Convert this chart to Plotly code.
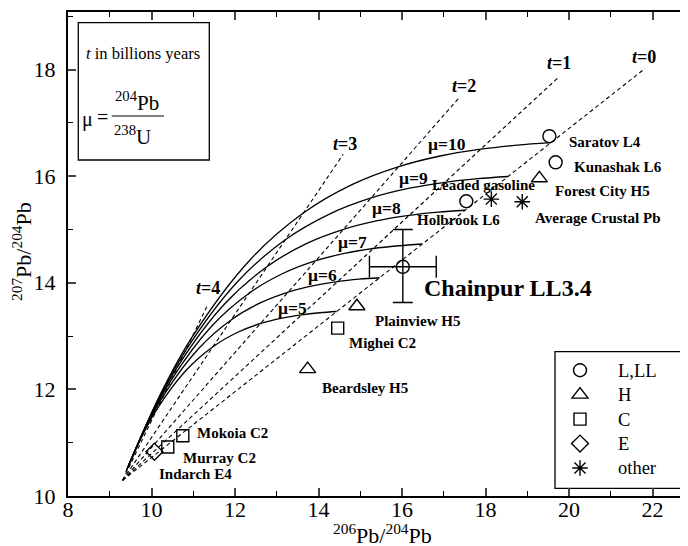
import plotly.graph_objects as go

# ---------------- data ----------------
# primordial (Canyon Diablo) Pb, common origin of all isochrons
start_x = 9.307
start_y = 10.294

# isochrons t = 0..4 (billion years): end points of the dashed lines
iso_t = [0, 1, 2, 3, 4]
iso_end_x = [21.82, 19.77, 17.38, 14.59, 11.33]
iso_end_y = [18.02, 17.87, 17.48, 16.41, 13.56]

# growth curves for mu = 5..10 (points along each curve)
mu_values = [5, 6, 7, 8, 9, 10]
mu5_x = [9.386, 9.767, 10.135, 10.830, 11.472, 12.066, 12.616, 13.125, 13.596, 14.032, 14.435]
mu5_y = [10.448, 11.114, 11.634, 12.358, 12.801, 13.072, 13.237, 13.338, 13.400, 13.438, 13.461]
mu6_x = [9.401, 9.859, 10.301, 11.135, 11.905, 12.618, 13.278, 13.889, 14.453, 14.977, 15.460]
mu6_y = [10.479, 11.277, 11.902, 12.771, 13.303, 13.627, 13.826, 13.947, 14.021, 14.067, 14.094]
mu7_x = [9.417, 9.951, 10.467, 11.439, 12.338, 13.170, 13.940, 14.652, 15.311, 15.921, 16.486]
mu7_y = [10.510, 11.441, 12.170, 13.184, 13.804, 14.183, 14.415, 14.556, 14.643, 14.695, 14.728]
mu8_x = [9.433, 10.043, 10.632, 11.744, 12.771, 13.721, 14.601, 15.416, 16.169, 16.866, 17.512]
mu8_y = [10.540, 11.605, 12.437, 13.597, 14.305, 14.739, 15.003, 15.165, 15.264, 15.324, 15.361]
mu9_x = [9.448, 10.135, 10.798, 12.048, 13.204, 14.273, 15.263, 16.179, 17.027, 17.811, 18.537]
mu9_y = [10.571, 11.769, 12.705, 14.010, 14.807, 15.294, 15.592, 15.774, 15.885, 15.953, 15.994]
mu10_x = [9.464, 10.227, 10.964, 12.353, 13.636, 14.825, 15.925, 16.943, 17.884, 18.756, 19.563]
mu10_y = [10.602, 11.933, 12.973, 14.423, 15.308, 15.850, 16.180, 16.383, 16.506, 16.582, 16.628]
mu_x = [mu5_x, mu6_x, mu7_x, mu8_x, mu9_x, mu10_x]
mu_y = [mu5_y, mu6_y, mu7_y, mu8_y, mu9_y, mu10_y]

# meteorite / reference samples
LL_names = ["Saratov L4", "Kunashak L6", "Holbrook L6"]
LL_x = [19.53, 19.68, 17.54]
LL_y = [16.75, 16.26, 15.53]

chainpur_x = [16.02]
chainpur_y = [14.30]
chainpur_ex = [0.80]
chainpur_ey_plus = [0.70]
chainpur_ey_minus = [0.67]

H_names = ["Forest City H5", "Plainview H5", "Beardsley H5"]
H_x = [19.29, 14.92, 13.74]
H_y = [15.96, 13.56, 12.38]

C_names = ["Mighei C2", "Mokoia C2", "Murray C2"]
C_x = [14.46, 10.75, 10.39]
C_y = [13.15, 11.13, 10.92]

E_names = ["Indarch E4"]
E_x = [10.07]
E_y = [10.83]

other_names = ["Leaded gasoline", "Average Crustal Pb"]
other_x = [18.14, 18.88]
other_y = [15.57, 15.52]

legend_labels = ["L,LL", "H", "C", "E", "other"]

x_ticks = [8, 10, 12, 14, 16, 18, 20, 22]
y_ticks = [10, 12, 14, 16, 18]

# ---------------- layout geometry ----------------
BODY = 8                      # default page margin of the html body
FW, FH = 688 - BODY, 546 - BODY
PL, PT = 68, 12               # plot area left / top in page pixels
PW, PH = 620, 484
ML, MT = PL - BODY, PT - BODY
MR = FW - ML - PW
MB = FH - MT - PH
XR = [8, 22.85]
YR = [10, 19.08]

def dx(p):  # page pixel x -> data x
    return XR[0] + (p - PL) / PW * (XR[1] - XR[0])

def dy(p):  # page pixel y -> data y
    return YR[0] + (PT + PH - p) / PH * (YR[1] - YR[0])

def ppx(p):  # page pixel x -> paper x
    return (p - PL) / PW

def ppy(p):  # page pixel y -> paper y
    return (PT + PH - p) / PH

FONT = "Liberation Serif, Times New Roman, serif"
BLACK = "black"

def leg(name):
    return "<span style='font-size:18.5px'>" + name + "</span>"

fig = go.Figure()

# isochrons (dashed)
for t, ex, ey in zip(iso_t, iso_end_x, iso_end_y):
    fig.add_trace(go.Scatter(
        x=[start_x, ex], y=[start_y, ey], mode="lines",
        line=dict(color=BLACK, width=1.1, dash="4px,3px"),
        showlegend=False, hoverinfo="skip"))

# growth curves (solid)
for m, xs, ys in zip(mu_values, mu_x, mu_y):
    fig.add_trace(go.Scatter(
        x=xs, y=ys, mode="lines",
        line=dict(color=BLACK, width=1.3, shape="spline", smoothing=1.0),
        showlegend=False, hoverinfo="skip"))

mk_line = dict(color=BLACK, width=1.4)

fig.add_trace(go.Scatter(
    x=LL_x, y=LL_y, mode="markers", name=leg(legend_labels[0]), text=LL_names,
    marker=dict(symbol="circle-open", size=13, color=BLACK, line=mk_line)))
fig.add_trace(go.Scatter(
    x=H_x, y=H_y, mode="markers", name=leg(legend_labels[1]), text=H_names,
    marker=dict(symbol="triangle-up-open", size=14, color=BLACK, line=mk_line)))
fig.add_trace(go.Scatter(
    x=C_x, y=C_y, mode="markers", name=leg(legend_labels[2]), text=C_names,
    marker=dict(symbol="square-open", size=12, color=BLACK, line=mk_line)))
fig.add_trace(go.Scatter(
    x=E_x, y=E_y, mode="markers", name=leg(legend_labels[3]), text=E_names,
    marker=dict(symbol="diamond-open", size=13, color=BLACK, line=mk_line)))
fig.add_trace(go.Scatter(
    x=other_x, y=other_y, mode="markers", name=leg(legend_labels[4]), text=other_names,
    marker=dict(symbol="asterisk-open", size=13, color=BLACK, line=mk_line)))

# Chainpur with error bars
fig.add_trace(go.Scatter(
    x=chainpur_x, y=chainpur_y, mode="markers", showlegend=False,
    text=["Chainpur LL3.4"],
    marker=dict(symbol="circle-open", size=13, color=BLACK, line=mk_line),
    error_x=dict(type="data", array=chainpur_ex, color=BLACK, thickness=1.4, width=11),
    error_y=dict(type="data", array=chainpur_ey_plus, arrayminus=chainpur_ey_minus,
                 color=BLACK, thickness=1.4, width=10)))

ann = []

def label(text, px_, py_, size=15, anchor="left"):
    ann.append(dict(x=dx(px_), y=dy(py_), xref="x", yref="y", text=text,
                    showarrow=False, xanchor=anchor, yanchor="middle",
                    font=dict(family=FONT, size=size, color=BLACK)))

# isochron labels
label("<b><i>t</i>=0</b>", 643.7, 56.7, 18, "center")
label("<b><i>t</i>=1</b>", 558.8, 62.5, 18, "center")
label("<b><i>t</i>=2</b>", 464, 85.8, 18, "center")
label("<b><i>t</i>=3</b>", 344.5, 144, 18, "center")
label("<b><i>t</i>=4</b>", 208.3, 287.5, 18, "center")
# mu labels
label("<b>μ=10</b>", 447, 144, 17.5, "center")
label("<b>μ=9</b>", 413.3, 178.3, 17.5, "center")
label("<b>μ=8</b>", 386.7, 207.5, 17.5, "center")
label("<b>μ=7</b>", 352.8, 241.7, 17.5, "center")
label("<b>μ=6</b>", 322.8, 275, 17.5, "center")
label("<b>μ=5</b>", 292.5, 307.5, 17.5, "center")
# sample labels
label("<b>Saratov L4</b>", 566.7, 141.7)
label("<b>Kunashak L6</b>", 571.7, 166.7)
label("<b>Forest City H5</b>", 553.3, 190.5)
label("<b>Leaded gasoline</b>", 430, 185)
label("<b>Average Crustal Pb</b>", 533.3, 217.5)
label("<b>Holbrook L6</b>", 415, 220)
label("<b>Chainpur LL3.4</b>", 421.7, 288, 24)
label("<b>Plainview H5</b>", 373.3, 320.8)
label("<b>Mighei C2</b>", 346.7, 343.3)
label("<b>Beardsley H5</b>", 320, 387.5)
label("<b>Mokoia C2</b>", 195, 433)
label("<b>Murray C2</b>", 180.7, 458.3)
label("<b>Indarch E4</b>", 156.7, 474.2)

# info box texts
label("<i>t</i> in billions years", 143, 53, 16.5, "center")
label("μ", 87, 119, 20, "center")
label("=", 102, 117, 20, "center")
label("<sup>204</sup>Pb", 137, 101, 21, "center")
label("<sup>238</sup>U", 132, 135, 21, "center")

# axis titles
ann.append(dict(x=ppx(382), y=ppy(534), xref="paper", yref="paper",
                text="<sup>206</sup>Pb/<sup>204</sup>Pb", showarrow=False,
                xanchor="center", yanchor="middle",
                font=dict(family=FONT, size=22, color=BLACK)))
ann.append(dict(x=ppx(22), y=ppy(252), xref="paper", yref="paper",
                text="<sup>207</sup>Pb/<sup>204</sup>Pb", showarrow=False, textangle=-90,
                xanchor="center", yanchor="middle",
                font=dict(family=FONT, size=22, color=BLACK)))

shapes = [
    # info box
    dict(type="rect", xref="paper", yref="paper", x0=ppx(78.3), x1=ppx(209.3),
         y0=ppy(160), y1=ppy(22.7),
         line=dict(color=BLACK, width=1.3), fillcolor="rgba(0,0,0,0)", layer="above"),
    # fraction bar
    dict(type="line", xref="paper", yref="paper", x0=ppx(111.7), x1=ppx(164),
         y0=ppy(116), y1=ppy(116), line=dict(color=BLACK, width=1.1)),
    # legend frame
    dict(type="rect", xref="paper", yref="paper", x0=ppx(555), x1=ppx(686.7),
         y0=ppy(488.3), y1=ppy(351.7),
         line=dict(color=BLACK, width=1.3), fillcolor="white", layer="below"),
]

fig.update_layout(
    width=FW, height=FH,
    margin=dict(l=ML, r=MR, t=MT, b=MB, autoexpand=False),
    paper_bgcolor="white", plot_bgcolor="rgba(0,0,0,0)",
    font=dict(family=FONT, size=22, color=BLACK),
    showlegend=True,
    legend=dict(x=ppx(542), y=ppy(353), xanchor="left", yanchor="top",
                bgcolor="rgba(0,0,0,0)", borderwidth=0,
                font=dict(family=FONT, size=16.5, color=BLACK),
                itemwidth=66),
    annotations=ann,
    shapes=shapes,
    xaxis=dict(range=XR, tickvals=x_ticks, ticks="inside", ticklen=8, tickwidth=1.5,
               showline=True, linewidth=2, linecolor=BLACK, mirror="ticks",
               showgrid=False, zeroline=False, ticklabelstandoff=-7,
               tickfont=dict(family=FONT, size=22, color=BLACK),
               minor=dict(dtick=1, tick0=8, ticks="inside", ticklen=5, tickwidth=1.2,
                          tickcolor=BLACK, showgrid=False)),
    yaxis=dict(range=YR, tickvals=y_ticks, ticks="inside", ticklen=8, tickwidth=1.5,
               showline=True, linewidth=2, linecolor=BLACK, mirror=False,
               showgrid=False, zeroline=False, ticklabelstandoff=6,
               tickfont=dict(family=FONT, size=22, color=BLACK),
               minor=dict(dtick=1, tick0=10, ticks="inside", ticklen=5, tickwidth=1.2,
                          tickcolor=BLACK, showgrid=False)),
)

fig.write_html("out.html")
